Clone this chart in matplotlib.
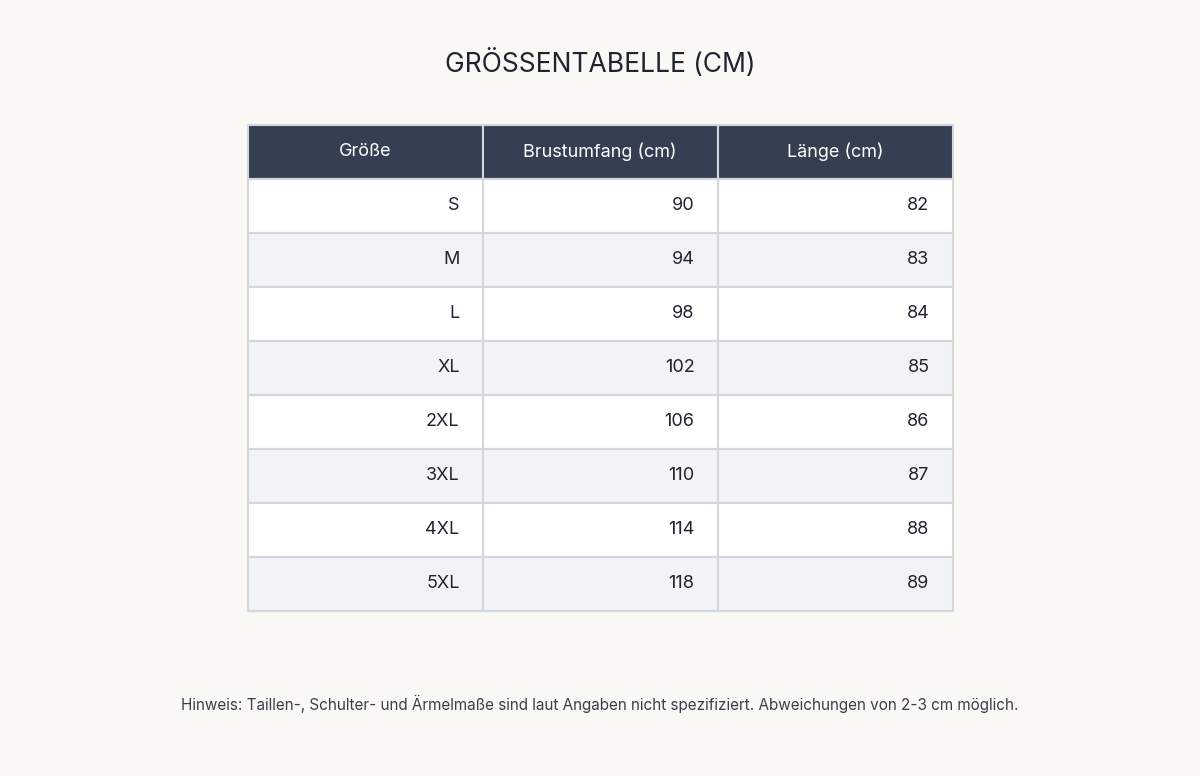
import matplotlib
matplotlib.use("Agg")
import matplotlib.pyplot as plt
from matplotlib.patches import Rectangle

title = "GRÖSSENTABELLE (CM)"
headers = ["Größe", "Brustumfang (cm)", "Länge (cm)"]
sizes = ["S", "M", "L", "XL", "2XL", "3XL", "4XL", "5XL"]
chest = [90, 94, 98, 102, 106, 110, 114, 118]
length = [82, 83, 84, 85, 86, 87, 88, 89]
note = "Hinweis: Taillen-, Schulter- und Ärmelmaße sind laut Angaben nicht spezifiziert. Abweichungen von 2-3 cm möglich."

plt.rcParams['font.family'] = ['Inter', 'DejaVu Sans']
fig = plt.figure(figsize=(12, 7.76), dpi=100)
fig.patch.set_facecolor('#f9f8f4')
ax = fig.add_axes([0, 0, 1, 1])
ax.set_xlim(0, 1200); ax.set_ylim(776, 0); ax.axis('off')

x0, colw = 247.5, 235
y0, hh, rh = 125, 54, 54
border = '#d3d6dc'

ax.text(600, 64, title, ha='center', va='center', fontsize=19, color='#1f2430')

for j, h in enumerate(headers):
    ax.add_patch(Rectangle((x0 + j*colw, y0), colw, hh, facecolor='#363f52', edgecolor=border, lw=1.5))
    ax.text(x0 + j*colw + colw/2, y0 + hh/2, h, ha='center', va='center', fontsize=13, color='white')

rows = list(zip(sizes, chest, length))
for i, row in enumerate(rows):
    y = y0 + hh + i*rh
    fc = 'white' if i % 2 == 0 else '#f2f3f6'
    for j, v in enumerate(row):
        ax.add_patch(Rectangle((x0 + j*colw, y), colw, rh, facecolor=fc, edgecolor=border, lw=1.5))
        ax.text(x0 + (j+1)*colw - 23, y + rh/2, str(v), ha='right', va='center', fontsize=13, color='#1f2430')

ax.text(600, 704, note, ha='center', va='center', fontsize=11, color='#3a3f4a')
fig.savefig('out.png', dpi=100, facecolor=fig.get_facecolor())
